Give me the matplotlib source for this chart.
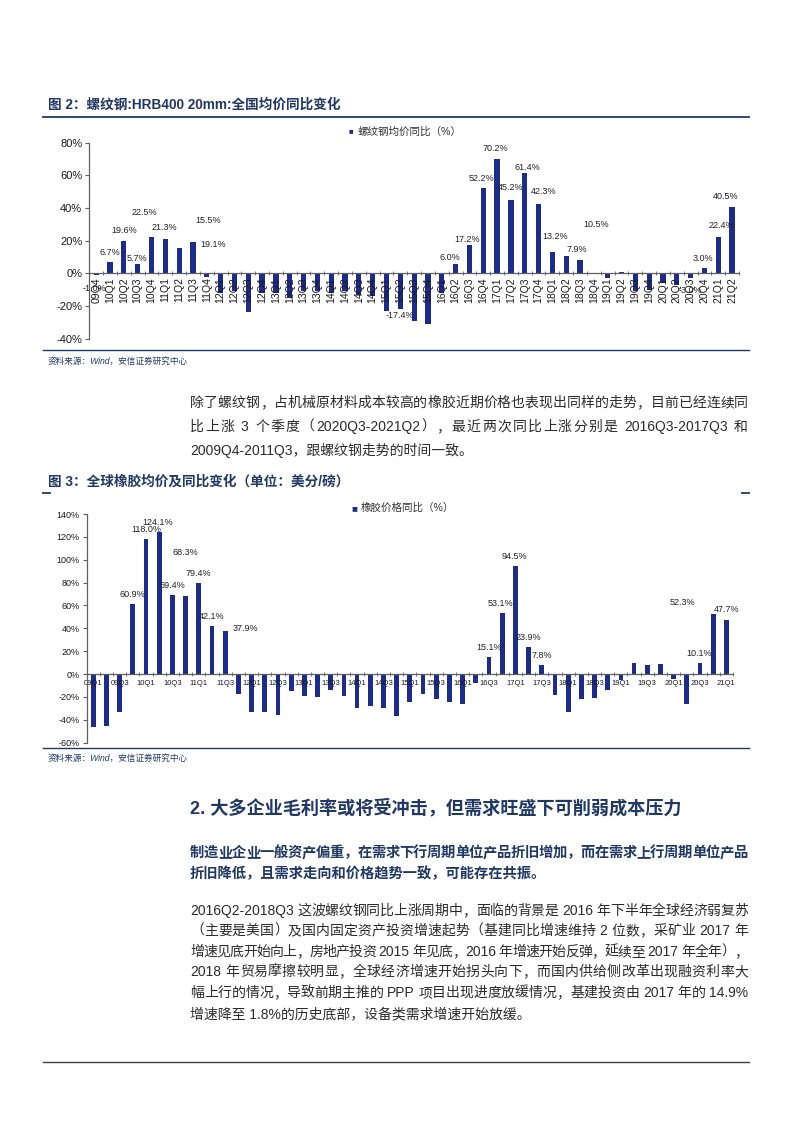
import matplotlib
matplotlib.use('Agg')
import matplotlib.pyplot as plt
from matplotlib.lines import Line2D
import numpy as np

plt.rcParams['font.family'] = ['Liberation Sans', 'Noto Sans CJK SC']

# ---- data: rebar HRB400 20mm yoy (%) ----
steel_cats = ['09Q4', '10Q1', '10Q2', '10Q3', '10Q4', '11Q1', '11Q2', '11Q3', '11Q4',
              '12Q1', '12Q2', '12Q3', '12Q4', '13Q1', '13Q2', '13Q3', '13Q4',
              '14Q1', '14Q2', '14Q3', '14Q4', '15Q1', '15Q2', '15Q3', '15Q4',
              '16Q1', '16Q2', '16Q3', '16Q4', '17Q1', '17Q2', '17Q3', '17Q4',
              '18Q1', '18Q2', '18Q3', '18Q4', '19Q1', '19Q2', '19Q3', '19Q4',
              '20Q1', '20Q2', '20Q3', '20Q4', '21Q1', '21Q2']
steel_vals = [-1.0, 6.7, 19.6, 5.7, 22.5, 21.3, 15.5, 19.1, -2.3,
              -12, -11, -24, -12, -12, -15, -11, -11,
              -12, -11, -13, -14, -23, -22, -29, -31,
              -12, 6.0, 17.2, 52.2, 70.2, 45.2, 61.4, 42.3,
              13.2, 10.5, 7.9, 0.0, -2.8, 0.6, -11, -10,
              -6, -7, -3.0, 3.0, 22.4, 40.5]
steel_label_cats = ['09Q4', '10Q1', '10Q2', '10Q3', '10Q4', '11Q1', '11Q2', '11Q3', '15Q2',
                    '16Q2', '16Q3', '16Q4', '17Q1', '17Q2', '17Q3', '17Q4', '18Q1',
                    '18Q2', '18Q3', '20Q3', '20Q4', '21Q1', '21Q2']
steel_label_text = ['-1.0%', '6.7%', '19.6%', '5.7%', '22.5%', '21.3%', '15.5%', '19.1%', '-17.4%',
                    '6.0%', '17.2%', '52.2%', '70.2%', '45.2%', '61.4%', '42.3%', '13.2%',
                    '7.9%', '10.5%', '-3.0%', '3.0%', '22.4%', '40.5%']

# ---- data: global rubber price yoy (%) ----
rubber_cats = ['09Q1', '09Q2', '09Q3', '09Q4', '10Q1', '10Q2', '10Q3', '10Q4',
               '11Q1', '11Q2', '11Q3', '11Q4', '12Q1', '12Q2', '12Q3', '12Q4',
               '13Q1', '13Q2', '13Q3', '13Q4', '14Q1', '14Q2', '14Q3', '14Q4',
               '15Q1', '15Q2', '15Q3', '15Q4', '16Q1', '16Q2', '16Q3', '16Q4',
               '17Q1', '17Q2', '17Q3', '17Q4', '18Q1', '18Q2', '18Q3', '18Q4',
               '19Q1', '19Q2', '19Q3', '19Q4', '20Q1', '20Q2', '20Q3', '20Q4', '21Q1']
rubber_vals = [-46, -45, -33, 60.9, 118.0, 124.1, 69.4, 68.3,
               79.4, 42.1, 37.9, -17, -33, -33, -36, -15,
               -19, -20, -14, -19, -29.5, -28, -29.5, -36.5,
               -24, -17, -22, -24, -26, -8, 15.1, 53.1,
               94.5, 23.9, 7.8, -18, -33.5, -21.5, -20.5, -13.5,
               -5.5, 10, 7.6, 9, -4.2, -26.5, 10.1, 52.3, 47.7]
rubber_label_cats = ['09Q4', '10Q1', '10Q2', '10Q3', '10Q4', '11Q1', '11Q2', '11Q3',
                     '16Q3', '16Q4', '17Q1', '17Q2', '17Q3', '20Q3', '20Q4', '21Q1']
rubber_label_text = ['60.9%', '118.0%', '124.1%', '69.4%', '68.3%', '79.4%', '42.1%', '37.9%',
                     '15.1%', '53.1%', '94.5%', '23.9%', '7.8%', '10.1%', '52.3%', '47.7%']

# label offsets (dx in bars, dy in %) - Excel placed some labels oddly
steel_label_off = [(-0.1, -8.6), (0, 6.2), (0, 6.5), (-0.06, 3.1), (-0.53, 14.6), (-0.09, 6.9),
                   (2.1, 17.1), (1.43, -1.2), (0, -4.1), (-0.4, 3.4), (-0.2, 3.8), (-0.1, 6),
                   (-0.1, 6.3), (0, 7.2), (0.2, 3.7), (0.4, 7.7), (0.2, 9.2), (0.8, 3.8),
                   (1.15, 21.7), (0, -7.3), (-0.1, 6.2), (0.2, 6.7), (-0.5, 6.4)]
rubber_label_off = [(-0.05, 8.8), (0, 8.5), (-0.1, 8.9), (0, 8.5), (0, 38.3), (0, 9),
                    (-0.06, 8.3), (1.5, 2.2), (0, 8.3), (-0.1, 8.4), (-0.1, 8.5), (0, 8.3),
                    (0, 8.5), (-0.1, 8), (-2.3, 10.4), (0, 9.1)]

W, H = 793, 1122
fig = plt.figure(figsize=(W / 100, H / 100), dpi=100)

NAVY = '#1F3864'
BAR = '#1B2C8C'
BODY = '#2B2B2B'


def fx(px):
    return px / W


def fy(py):
    return 1 - py / H


def hline(y, x0=43, x1=749, color=NAVY, lw=1.3):
    fig.add_artist(Line2D([fx(x0), fx(x1)], [fy(y), fy(y)], color=color, lw=lw))


def tokenize(s):
    toks, run = [], ''
    for ch in s:
        if ch == ' ':
            if run:
                toks.append(run)
                run = ''
            toks.append(' ')
        elif ord(ch) < 128:
            run += ch
        else:
            if run:
                toks.append(run)
                run = ''
            toks.append(ch)
    if run:
        toks.append(run)
    return toks


def text_line(y, s, x0=190, x1=748, justify=True, **kw):
    if not justify:
        fig.text(fx(x0), fy(y), s, va='center', ha='left', **kw)
        return
    renderer = fig.canvas.get_renderer()
    fs_px = kw.get('fontsize', 10) * 100 / 72
    toks = tokenize(s)
    widths = []
    for t in toks:
        if t == ' ':
            widths.append(0.28 * fs_px)
            continue
        tt = fig.text(0, 0, t, **kw)
        widths.append(tt.get_window_extent(renderer).width)
        tt.remove()
    extra = (x1 - x0 - sum(widths)) / max(len(toks) - 1, 1)
    x = x0
    for t, w in zip(toks, widths):
        if t != ' ':
            fig.text(fx(x), fy(y), t, va='center', ha='left', **kw)
        x += w + extra


def bar_chart(rect, cats, vals, ylim, ystep, xlim, lab_cats, lab_text, lab_off,
              rot_labels, xtick_every, xtick_size, ytick_size, bar_w):
    ax = fig.add_axes(rect)
    xs = np.arange(len(cats))
    ax.bar(xs, vals, width=bar_w, color=BAR, zorder=1)
    ax.set_xlim(*xlim)
    ax.set_ylim(*ylim)
    for s in ['top', 'right']:
        ax.spines[s].set_visible(False)
    ax.spines['bottom'].set_position(('data', 0))
    for s in ['bottom', 'left']:
        ax.spines[s].set_color('#606060')
        ax.spines[s].set_linewidth(0.9)
    ax.set_xticks(xs[::xtick_every])
    ax.set_xticklabels(cats[::xtick_every], rotation=90 if rot_labels else 0,
                       fontsize=xtick_size, color='#1a1a1a')
    ax.set_xticks(np.arange(-0.5, len(cats), 1), minor=True)
    ax.tick_params(axis='x', which='major', length=0, pad=3 if rot_labels else 4)
    ax.tick_params(axis='x', which='minor', length=3, direction='inout', color='#606060')
    ax.set_yticks(np.arange(ylim[0], ylim[1] + 1, ystep))
    ax.yaxis.set_major_formatter(lambda v, p: f'{v:.0f}%')
    ax.tick_params(axis='y', labelsize=ytick_size, length=3, pad=2, color='#606060',
                   labelcolor='#1a1a1a')
    for c, t, (dx, dy) in zip(lab_cats, lab_text, lab_off):
        i = cats.index(c)
        ax.text(i + dx, vals[i] + dy, t, ha='center', va='center', fontsize=6.5,
                color='#222222', zorder=3)
    return ax


# ---------- figure 2: rebar ----------
fig.text(fx(48), fy(105), '图 2：螺纹钢:HRB400 20mm:全国均价同比变化', fontsize=9.8,
         fontweight='bold', color=NAVY, va='center')
hline(117)
fig.text(fx(349), fy(132), '■', fontsize=5.5, color=BAR, va='center')
fig.text(fx(358), fy(132), '螺纹钢均价同比（%）', fontsize=7.6, color='#333333', va='center')
bar_chart([fx(89.3), fy(338.6), fx(739) - fx(89.3), (338.6 - 142.7) / H],
          steel_cats, steel_vals, (-40, 80), 20, (-0.48, 46.43),
          steel_label_cats, steel_label_text, steel_label_off,
          True, 1, 7.5, 8, 0.38)
hline(350, lw=1.0)
fig.text(fx(48), fy(361), '资料来源：Wind，安信证券研究中心', fontsize=6.2, style='italic',
         color=NAVY, va='center')

# ---------- paragraph ----------
body = dict(fontsize=10, color=BODY)
text_line(403, '除了螺纹钢，占机械原材料成本较高的橡胶近期价格也表现出同样的走势，目前已经连续同', **body)
text_line(427, '比上涨 3 个季度（2020Q3-2021Q2），最近两次同比上涨分别是 2016Q3-2017Q3 和', **body)
text_line(450, '2009Q4-2011Q3，跟螺纹钢走势的时间一致。', justify=False, **body)

# ---------- figure 3: rubber ----------
fig.text(fx(48), fy(482), '图 3：全球橡胶均价及同比变化（单位：美分/磅）', fontsize=9.8,
         fontweight='bold', color=NAVY, va='center')
hline(493, 43, 50)
hline(493, 742, 749)
fig.text(fx(351), fy(508), '■', fontsize=7, color=BAR, va='center')
fig.text(fx(361), fy(508), '橡胶价格同比（%）', fontsize=7.6, color='#333333', va='center')
bar_chart([fx(86.7), fy(742.7), fx(733) - fx(86.7), (742.7 - 514) / H],
          rubber_cats, rubber_vals, (-60, 140), 20, (-0.45, 48.5),
          rubber_label_cats, rubber_label_text, rubber_label_off,
          False, 2, 5.5, 6.5, 0.36)
hline(748, lw=1.0)
fig.text(fx(48), fy(758), '资料来源：Wind，安信证券研究中心', fontsize=6.2, style='italic',
         color=NAVY, va='center')

# ---------- section 2 ----------
fig.text(fx(190), fy(808), '2. 大多企业毛利率或将受冲击，但需求旺盛下可削弱成本压力',
         fontsize=13.1, fontweight='bold', color=NAVY, va='center')
bold = dict(fontsize=10.3, color=NAVY, fontweight='bold')
text_line(853, '制造业企业一般资产偏重，在需求下行周期单位产品折旧增加，而在需求上行周期单位产品', **bold)
text_line(874, '折旧降低，且需求走向和价格趋势一致，可能存在共振。', justify=False, **bold)

text_line(911, '2016Q2-2018Q3 这波螺纹钢同比上涨周期中，面临的背景是 2016 年下半年全球经济弱复苏', **body)
text_line(931, '（主要是美国）及国内固定资产投资增速起势（基建同比增速维持 2 位数，采矿业 2017 年', **body)
text_line(952, '增速见底开始向上，房地产投资 2015 年见底，2016 年增速开始反弹，延续至 2017 年全年），', **body)
text_line(972, '2018 年贸易摩擦较明显，全球经济增速开始拐头向下，而国内供给侧改革出现融资利率大', **body)
text_line(993, '幅上行的情况，导致前期主推的 PPP 项目出现进度放缓情况，基建投资由 2017 年的 14.9%', **body)
text_line(1014, '增速降至 1.8%的历史底部，设备类需求增速开始放缓。', justify=False, **body)

hline(1062, lw=1.0, color='#404040')

fig.savefig('out.png', dpi=100)
